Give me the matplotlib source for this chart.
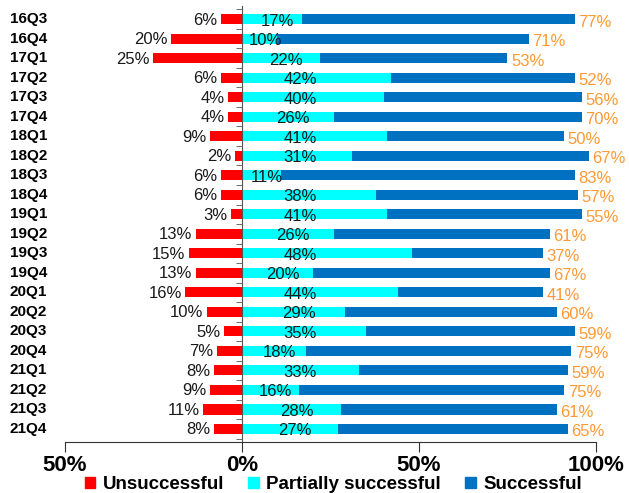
import matplotlib

matplotlib.use("Agg")
import matplotlib.pyplot as plt
import matplotlib.transforms as mtransforms
from matplotlib.patches import Patch

plt.rcParams["font.family"] = ["Liberation Sans", "DejaVu Sans"]

quarters = ["16Q3", "16Q4", "17Q1", "17Q2", "17Q3", "17Q4", "18Q1", "18Q2",
            "18Q3", "18Q4", "19Q1", "19Q2", "19Q3", "19Q4", "20Q1", "20Q2",
            "20Q3", "20Q4", "21Q1", "21Q2", "21Q3", "21Q4"]
unsuccessful = [6, 20, 25, 6, 4, 4, 9, 2, 6, 6, 3, 13, 15, 13, 16, 10, 5, 7, 8, 9, 11, 8]
partial = [17, 10, 22, 42, 40, 26, 41, 31, 11, 38, 41, 26, 48, 20, 44, 29, 35, 18, 33, 16, 28, 27]
successful = [77, 71, 53, 52, 56, 70, 50, 67, 83, 57, 55, 61, 37, 67, 41, 60, 59, 75, 59, 75, 61, 65]

RED = "#FF0000"
CYAN = "#00FFFF"
BLUE = "#0070C0"
ORANGE = "#FF9933"

fig = plt.figure(figsize=(6.29, 4.93), dpi=100)
ax = fig.add_axes([0.1033, 0.1034, 0.8442, 0.8844])

y = list(range(len(quarters)))
h = 0.52
ax.barh(y, [-u for u in unsuccessful], height=h, color=RED)
ax.barh(y, partial, height=h, color=CYAN)
ax.barh(y, successful, left=partial, height=h, color=BLUE)

for i, (u, p, s) in enumerate(zip(unsuccessful, partial, successful)):
    ax.text(-u - 1, i + 0.05, f"{u}%", ha="right", va="center", fontsize=12, color="#1a1a1a")
    ax.text(min(p / 2 + 1.5, 16.5), i + 0.1, f"{p}%", ha="center", va="center",
            fontsize=12, color="#1a1a1a")
    ax.text(p + s + 1, i + 0.15, f"{s}%", ha="left", va="center", fontsize=12, color=ORANGE)

ax.set_xlim(-50, 100)
ax.set_ylim(len(quarters) - 1 + 0.67, -0.67)

# vertical axis line at 0 with ticks between categories
ax.spines["left"].set_position(("data", 0))
ax.spines["left"].set_color("#555555")
ax.spines["right"].set_visible(False)
ax.spines["top"].set_visible(False)
ax.spines["bottom"].set_color("#333333")
ax.set_yticks([])
ax.set_yticks([i - 0.5 for i in range(len(quarters) + 1)], minor=True)
ax.tick_params(axis="y", which="minor", length=4, direction="out", color="#555555")

trans = mtransforms.blended_transform_factory(ax.transAxes, ax.transData)
for i, q in enumerate(quarters):
    ax.text(-0.104, i, q, transform=trans, ha="left", va="center",
            fontsize=11, fontweight="bold")

ax.set_xticks([-50, 0, 50, 100])
ax.set_xticklabels(["50%", "0%", "50%", "100%"], fontsize=16, fontweight="bold")
ax.tick_params(axis="x", length=7, direction="out", color="#333333", pad=2)

handles = [Patch(color=RED, label="Unsuccessful"),
           Patch(color=CYAN, label="Partially successful"),
           Patch(color=BLUE, label="Successful")]
fig.legend(handles=handles, loc="lower center", bbox_to_anchor=(0.53, -0.035), ncol=3,
           frameon=False, prop={"weight": "bold", "size": 13.5},
           handlelength=0.55, handleheight=0.55, handletextpad=0.4, columnspacing=1.3)

fig.savefig("out.png", dpi=100)
